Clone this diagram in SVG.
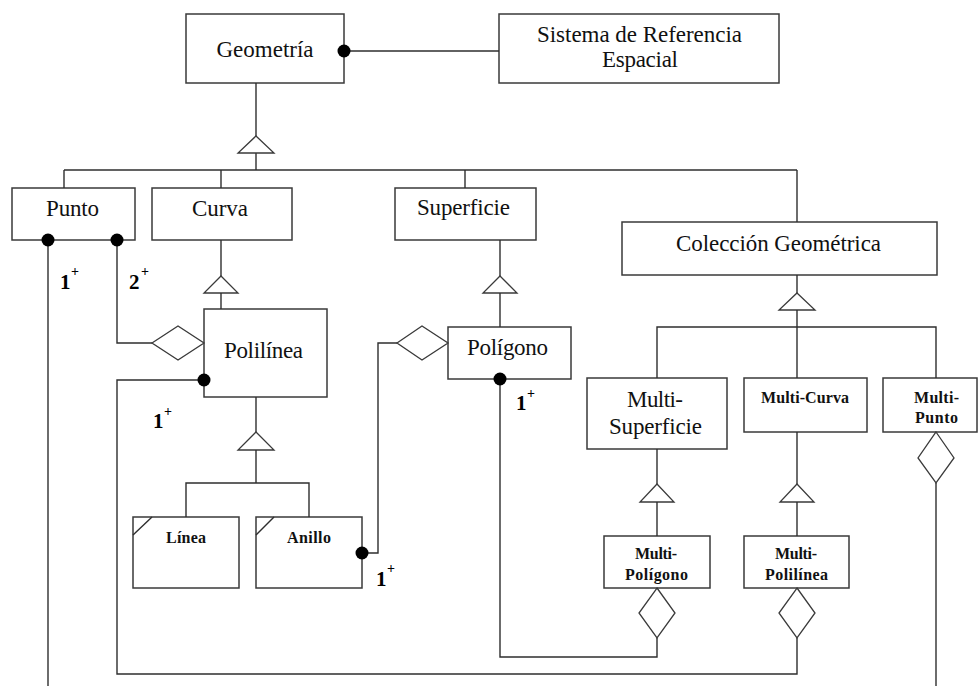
<svg xmlns="http://www.w3.org/2000/svg" width="978" height="686" viewBox="0 0 978 686">
  <style>
    .box { fill: #ffffff; stroke: #3a3a3a; stroke-width: 1.5; }
    .ln { fill: none; stroke: #2e2e2e; stroke-width: 1.4; }
    .tri, .dia { fill: #ffffff; stroke: #3a3a3a; stroke-width: 1.3; }
    .dot { fill: #000000; }
    .t { font-family: "Liberation Serif", "Times New Roman", serif; font-size: 23px; fill: #111; text-anchor: middle; }
    .s { font-family: "Liberation Serif", "Times New Roman", serif; font-size: 16px; font-weight: bold; fill: #111; text-anchor: middle; }
    .m { font-family: "Liberation Serif", "Times New Roman", serif; font-size: 21px; font-weight: bold; fill: #000; }
    .p { font-family: "Liberation Serif", "Times New Roman", serif; font-size: 14px; font-weight: bold; fill: #000; }
  </style>

  <rect width="978" height="686" fill="#ffffff"/>

  <!-- classes -->
  <g id="geometria">
    <rect class="box" x="186" y="14" width="158" height="69"/>
    <text class="t" x="265" y="57" textLength="97">Geometría</text>
  </g>
  <g id="sistema-referencia">
    <rect class="box" x="499" y="14" width="280" height="69"/>
    <text class="t" x="639.5" y="42" textLength="205">Sistema de Referencia</text>
    <text class="t" x="640" y="67" textLength="76">Espacial</text>
  </g>
  <g id="punto">
    <rect class="box" x="12" y="188" width="123" height="52"/>
    <text class="t" x="72.5" y="216" textLength="53">Punto</text>
  </g>
  <g id="curva">
    <rect class="box" x="152" y="188" width="140" height="52"/>
    <text class="t" x="220" y="216" textLength="56">Curva</text>
  </g>
  <g id="superficie">
    <rect class="box" x="395" y="188" width="141" height="52"/>
    <text class="t" x="463.5" y="215" textLength="93">Superficie</text>
  </g>
  <g id="coleccion-geometrica">
    <rect class="box" x="622" y="222" width="315" height="53"/>
    <text class="t" x="778.5" y="251" textLength="205">Colección Geométrica</text>
  </g>
  <g id="polilinea">
    <rect class="box" x="204" y="309" width="123" height="88"/>
    <text class="t" x="263.5" y="358" textLength="79">Polilínea</text>
  </g>
  <g id="poligono">
    <rect class="box" x="448" y="327" width="123" height="52"/>
    <text class="t" x="507.5" y="355" textLength="81">Polígono</text>
  </g>
  <g id="linea">
    <rect class="box" x="133" y="517" width="106" height="71"/>
    <line class="ln" x1="133" y1="535" x2="152" y2="517"/>
    <text class="s" x="186" y="543" textLength="40">Línea</text>
  </g>
  <g id="anillo">
    <rect class="box" x="256" y="517" width="106" height="71"/>
    <line class="ln" x1="256" y1="535" x2="274" y2="517"/>
    <text class="s" x="309" y="543" textLength="44">Anillo</text>
  </g>
  <g id="multi-superficie">
    <rect class="box" x="587" y="378" width="140" height="71"/>
    <text class="t" x="655" y="407" textLength="56">Multi-</text>
    <text class="t" x="655.5" y="434" textLength="93">Superficie</text>
  </g>
  <g id="multi-curva">
    <rect class="box" x="744" y="378" width="123" height="54"/>
    <text class="s" x="805" y="403" textLength="88">Multi-Curva</text>
  </g>
  <g id="multi-punto">
    <rect class="box" x="883" y="378" width="94" height="54"/>
    <text class="s" x="936.5" y="403" textLength="45">Multi-</text>
    <text class="s" x="936.5" y="423" textLength="43">Punto</text>
  </g>
  <g id="multi-poligono">
    <rect class="box" x="604" y="536" width="106" height="52"/>
    <text class="s" x="656" y="559" textLength="42">Multi-</text>
    <text class="s" x="656.5" y="580" textLength="63">Polígono</text>
  </g>
  <g id="multi-polilinea">
    <rect class="box" x="744" y="536" width="105" height="52"/>
    <text class="s" x="796" y="559" textLength="42">Multi-</text>
    <text class="s" x="796.5" y="580" textLength="63">Polilínea</text>
  </g>

  <!-- connectors -->
  <g id="connectors">
    <!-- Geometría to Sistema de Referencia -->
    <line class="ln" x1="344" y1="51" x2="499" y2="51"/>
    <circle class="dot" cx="344" cy="51" r="6.5"/>

    <!-- Geometría generalization -->
    <polyline class="ln" points="256,83 256,136"/>
    <polyline class="ln" points="256,153 256,170"/>
    <polygon class="tri" points="256,136 274,153 238,153"/>
    <polyline class="ln" points="64,170 797,170"/>
    <polyline class="ln" points="64,170 64,188"/>
    <polyline class="ln" points="221,170 221,188"/>
    <polyline class="ln" points="465,170 465,188"/>
    <polyline class="ln" points="797,170 797,222"/>

    <!-- Punto associations -->
    <polyline class="ln" points="48,240 48,686"/>
    <polyline class="ln" points="117,240 117,343 152,343"/>
    <circle class="dot" cx="48" cy="240" r="6.5"/>
    <circle class="dot" cx="117" cy="240" r="6.5"/>
    <polygon class="dia" points="152,343 178,326 204,343 178,360"/>

    <!-- Curva to Polilínea -->
    <polyline class="ln" points="221,240 221,276"/>
    <polygon class="tri" points="221,276 238,293 204,293"/>
    <polyline class="ln" points="221,293 221,309"/>

    <!-- Polilínea to Multi-Polilínea -->
    <polyline class="ln" points="204,380 117,380 117,674 797,674 797,638"/>
    <circle class="dot" cx="204" cy="380" r="6.5"/>
    <polygon class="dia" points="797,588 815,613 797,638 779,613"/>

    <!-- Polilínea to Línea / Anillo -->
    <polyline class="ln" points="256,397 256,432"/>
    <polygon class="tri" points="256,432 274,450 238,450"/>
    <polyline class="ln" points="256,450 256,483"/>
    <polyline class="ln" points="186,517 186,483 309,483 309,517"/>

    <!-- Anillo to Polígono -->
    <polyline class="ln" points="362,553 378,553 378,343 397,343"/>
    <circle class="dot" cx="362" cy="553" r="6.5"/>
    <polygon class="dia" points="397,343 422,326 448,343 422,360"/>

    <!-- Superficie to Polígono -->
    <polyline class="ln" points="500,240 500,276"/>
    <polygon class="tri" points="500,276 517,293 483,293"/>
    <polyline class="ln" points="500,293 500,327"/>

    <!-- Polígono to Multi-Polígono -->
    <polyline class="ln" points="500,379 500,657 657,657 657,638"/>
    <circle class="dot" cx="500" cy="379" r="6.5"/>
    <polygon class="dia" points="657,588 675,613 657,638 639,613"/>

    <!-- Colección Geométrica generalization -->
    <polyline class="ln" points="797,275 797,293"/>
    <polygon class="tri" points="797,293 815,310 779,310"/>
    <polyline class="ln" points="797,310 797,327"/>
    <polyline class="ln" points="657,378 657,327 936,327 936,378"/>
    <polyline class="ln" points="797,327 797,378"/>

    <!-- Multi-Superficie to Multi-Polígono -->
    <polyline class="ln" points="657,449 657,484"/>
    <polygon class="tri" points="657,484 674,502 640,502"/>
    <polyline class="ln" points="657,502 657,536"/>

    <!-- Multi-Curva to Multi-Polilínea -->
    <polyline class="ln" points="797,432 797,484"/>
    <polygon class="tri" points="797,484 814,502 780,502"/>
    <polyline class="ln" points="797,502 797,536"/>

    <!-- Multi-Punto aggregation -->
    <polygon class="dia" points="936,432 954,458 936,483 918,458"/>
    <polyline class="ln" points="936,483 936,686"/>
  </g>

  <!-- multiplicities -->
  <g id="multiplicities">
    <text class="m" x="60" y="289">1</text><text class="p" x="71" y="276">+</text>
    <text class="m" x="129" y="289">2</text><text class="p" x="141" y="276">+</text>
    <text class="m" x="153" y="428">1</text><text class="p" x="164" y="416">+</text>
    <text class="m" x="516" y="410">1</text><text class="p" x="527" y="398">+</text>
    <text class="m" x="376" y="586">1</text><text class="p" x="387" y="573">+</text>
  </g>
</svg>
